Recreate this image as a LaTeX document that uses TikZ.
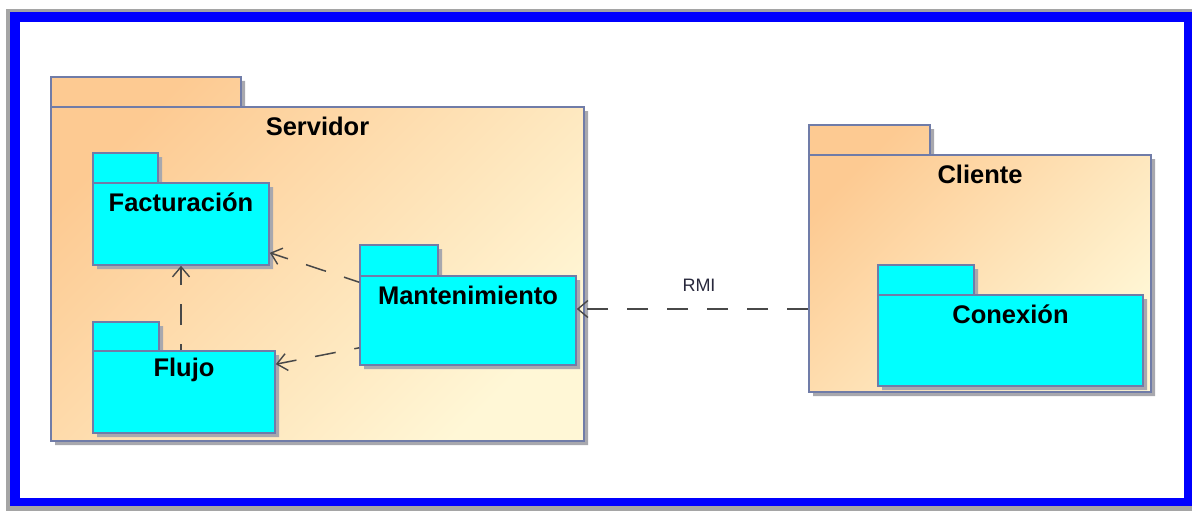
\documentclass[tikz,border=0pt]{standalone}
\usepackage{fontspec}
\setmainfont{Liberation Sans}
\usetikzlibrary{arrows.meta,shadows,fit}

\definecolor{frameblue}{RGB}{0,0,255}
\definecolor{framegray}{RGB}{165,165,165}
\definecolor{pkgpeach}{RGB}{253,202,146}
\definecolor{pkglight}{RGB}{255,247,214}
\definecolor{pkgcyan}{RGB}{0,255,255}
\definecolor{pkgline}{RGB}{112,124,168}
\definecolor{shadowgray}{RGB}{168,168,174}
\definecolor{depline}{RGB}{72,72,72}
\definecolor{labelink}{RGB}{40,40,60}

\tikzset{
  x=1pt, y=-1pt,
  pkgshadow/.style={drop shadow={shadow xshift=4pt,shadow yshift=-4pt,fill=shadowgray,opacity=1}},
  outerfill/.style={pkgshadow, top color=pkgpeach, bottom color=pkglight, shading angle=45},
  innerfill/.style={pkgshadow, fill=pkgcyan},
  pkgedge/.style={draw=pkgline, line width=1.6pt},
  pkgbody/.style={pkgedge, rectangle, inner sep=0pt},
  pkgtitle/.style={font=\bfseries\fontsize{25.5}{30}\selectfont, text=black, inner sep=0pt},
  deplabel/.style={font=\fontsize{18}{22}\selectfont, text=labelink, inner sep=0pt},
  dep/.style={draw=depline, line width=1.5pt, dash pattern=on 21pt off 19pt,
    -{Straight Barb[length=10pt,width=17pt,line width=1.4pt]}}
}

% UML package: #1 name, #2 fill style, #3 left, #4 tab top, #5 tab right,
% #6 body top, #7 body right, #8 body bottom, #9 title
\newcommand\umlpkg[9]{%
  \path[#2] (#3,#4) -- (#5,#4) -- (#5,#6) -- (#7,#6) -- (#7,#8) -- (#3,#8) -- cycle;
  \draw[pkgedge] (#3,#6) rectangle (#5,#4);
  \node[pkgbody, fit={(#3,#6) (#7,#8)}] (#1) {};
  \node[pkgtitle] (#1-title) at ([yshift=-20pt]#1.north) {#9};
}

\begin{document}
\begin{tikzpicture}
  \useasboundingbox (0,0) rectangle (1192,511);
  % window frame
  \fill[white] (0,0) rectangle (1192,511);
  \fill[framegray] (6,9) rectangle (1196,511);
  \fill[frameblue] (10,12) rectangle (1196,506);
  \fill[white] (20,22) rectangle (1184,498);

  % server side
  \umlpkg{srv}{outerfill}{51}{77}{241}{107}{584}{441}{Servidor}
  \umlpkg{fact}{innerfill}{93}{153}{158}{183}{269}{265}{Facturación}
  \umlpkg{flujo}{innerfill}{93}{322}{159}{351}{275}{433}{Flujo}
  \umlpkg{mant}{innerfill}{360}{245}{438}{276}{576}{365}{Mantenimiento}

  % client side
  \umlpkg{cli}{outerfill}{809}{125}{930}{155}{1151}{392}{Cliente}
  \umlpkg{conex}{innerfill}{878}{265}{974}{295}{1143}{386}{Conexión}

  % dependencies
  \draw[dep, dash phase=5pt] ([yshift=-7pt]mant.north west) -- ([yshift=13pt]fact.south east);
  \draw[dep, dash phase=16pt] ([yshift=18pt]mant.south west) -- ([yshift=-14pt]flujo.north east);
  \draw[dep, dash phase=15pt] (flujo.north -| fact.south) -- (fact.south);

  \coordinate (rmi) at (700,309);
  \draw[dep] (cli.west |- rmi) -- (mant.east |- rmi);
  \node[deplabel] (rmi-label) at (699,285) {RMI};
\end{tikzpicture}
\end{document}
